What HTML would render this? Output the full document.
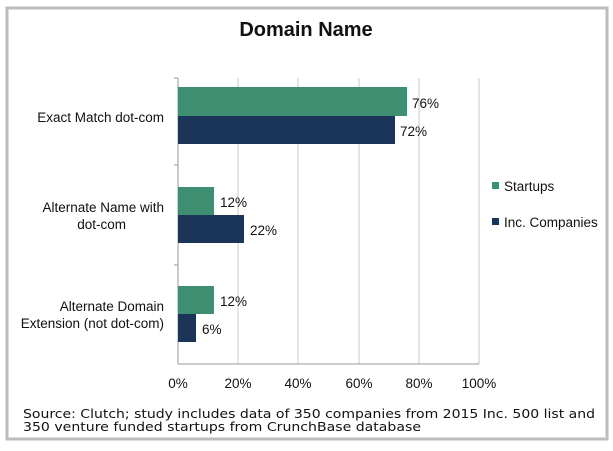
<!DOCTYPE html>
<html><head><style>
body{margin:0;width:613px;height:446px;background:#fff;overflow:hidden;font-family:"Liberation Sans",sans-serif}
</style></head><body>
<svg width="613" height="446" xmlns="http://www.w3.org/2000/svg" font-family="Liberation Sans, sans-serif">
<rect x="7" y="8" width="600" height="431" fill="#fff" stroke="#bdbdbd" stroke-width="3"/>
<text x="306" y="36" text-anchor="middle" font-size="20" font-weight="bold" fill="#111">Domain Name</text>
<g stroke="#c8c8c8" stroke-width="1">
<line x1="238" y1="78" x2="238" y2="364"/><line x1="298" y1="78" x2="298" y2="364"/>
<line x1="359" y1="78" x2="359" y2="364"/><line x1="419" y1="78" x2="419" y2="364"/>
<line x1="479" y1="78" x2="479" y2="364"/>
</g>
<g stroke="#999" stroke-width="1">
<line x1="178" y1="78" x2="178" y2="364"/><line x1="178" y1="364" x2="479" y2="364"/>
<line x1="174" y1="78" x2="178" y2="78"/><line x1="174" y1="165" x2="178" y2="165"/><line x1="174" y1="265" x2="178" y2="265"/>
</g>
<g fill="#3e8e72"><rect x="178" y="87" width="229" height="29"/><rect x="178" y="187" width="36" height="28"/><rect x="178" y="286" width="36" height="28"/></g>
<g fill="#1b3558"><rect x="178" y="116" width="217" height="28"/><rect x="178" y="215" width="66" height="28"/><rect x="178" y="314" width="18" height="28"/></g>
<g font-size="13.5" fill="#111">
<text x="412" y="108">76%</text><text x="400" y="136">72%</text>
<text x="220" y="207">12%</text><text x="250" y="235">22%</text>
<text x="220" y="306">12%</text><text x="202" y="334">6%</text>
<text x="164" y="122" text-anchor="end">Exact Match dot-com</text>
<text x="164" y="212" text-anchor="end">Alternate Name with</text>
<text x="126" y="229" text-anchor="end">dot-com</text>
<text x="164" y="311" text-anchor="end">Alternate Domain</text>
<text x="164" y="328" text-anchor="end">Extension (not dot-com)</text>
<g text-anchor="middle"><text x="178" y="388">0%</text><text x="238" y="388">20%</text><text x="298" y="388">40%</text><text x="359" y="388">60%</text><text x="419" y="388">80%</text><text x="479" y="388">100%</text></g>
<rect x="492" y="182" width="7" height="7" fill="#3e8e72"/><text x="504" y="191">Startups</text>
<rect x="492" y="218" width="7" height="7" fill="#1b3558"/><text x="504" y="227">Inc. Companies</text>
</g>
<g font-family="DejaVu Sans, sans-serif" font-size="12.5" fill="#111">
<text x="23" y="418" textLength="572" lengthAdjust="spacingAndGlyphs">Source: Clutch; study includes data of 350 companies from 2015 Inc. 500 list and</text>
<text x="23" y="431" textLength="398" lengthAdjust="spacingAndGlyphs">350 venture funded startups from CrunchBase database</text>
</g>
</svg>
</body></html>
